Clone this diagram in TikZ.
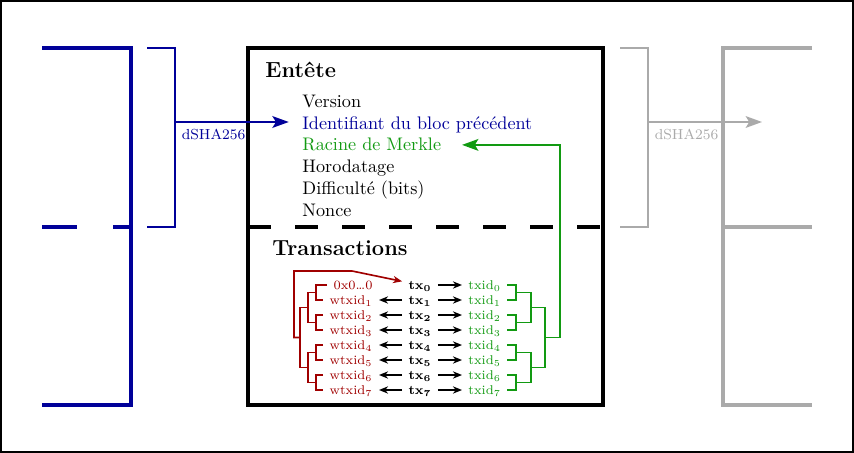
\documentclass[tikz,border=0pt]{standalone}
\usepackage{xcolor}
\usepackage{tikz}
\usetikzlibrary{arrows.meta,positioning,calc}
\definecolor{prevblue}{HTML}{000099}
\definecolor{merklegreen}{HTML}{129A12}
\definecolor{witnessred}{HTML}{A00000}
\definecolor{nextgray}{HTML}{AAAAAA}
\tikzset{
  blockline/.style={line width=2.4pt, draw=#1},
  blockline/.default=black,
  bracketline/.style={line width=0.7pt, draw=#1},
  hasharrow/.style={
    -{Stealth[length=9pt, width=6.5pt, inset=2pt]}, line width=0.8pt, color=#1
  },
  hashlabel/.style={font=\footnotesize, text=#1},
  titlelabel/.style={anchor=base west, font=\large\bfseries},
  fieldlabel/.style={anchor=base west, font=\normalsize, text=#1},
  fieldlabel/.default=black,
  txlabel/.style={font=\scriptsize, text height=1.5ex, text depth=0.4ex},
  widlabel/.style={txlabel, text=witnessred, anchor=east},
  idlabel/.style={txlabel, text=merklegreen, anchor=west},
  txarrow/.style={-{Stealth[length=5pt, width=4pt]}, line width=0.8pt},
  treeline/.style={line width=0.9pt, draw=#1},
}

\begin{document}
\begin{tikzpicture}[x=0.55pt, y=-0.55pt]
\useasboundingbox (0,0) rectangle (854,453);
\draw[line width=1.1pt] (1,1) rectangle (853,452);

% Previous block
\draw[blockline=prevblue] (42,48) -- (131,48) -- (131,405) -- (42,405);
\draw[blockline=prevblue, dash pattern=on 19.25pt off 19.8pt] (42,227) -- (131,227);
\draw[bracketline=prevblue] (147,48) -| (175,227) -- (147,227);
\coordinate (lb) at (175,122);

% Current block
\draw[blockline] (248,48) rectangle (603,405);
\draw[blockline, dash pattern=on 12.65pt off 13.2pt] (248,227) -- (603,227);
\node[titlelabel] (header) at (259,78) {Entête};
\node[titlelabel] (txs) at (266,255) {Transactions};

% Header fields
\node[fieldlabel] (version) at (296,108) {Version};
\node[fieldlabel=prevblue] (prevhash) at (296,129.5) {Identifiant du bloc précédent};
\node[fieldlabel=merklegreen] (merkle) at (296,151) {Racine de Merkle};
\node[fieldlabel] (time) at (296,172.5) {Horodatage};
\node[fieldlabel] (bits) at (296,194.5) {Difficulté (bits)};
\node[fieldlabel] (nonce) at (296,216.5) {Nonce};

\draw[hasharrow=prevblue, shorten >=4pt] (lb) -- (lb -| prevhash.west)
  node[pos=0, below right, hashlabel=prevblue] {dSHA256};

% Next block
\draw[blockline=nextgray] (812,48) -- (723,48) -- (723,405) -- (812,405);
\draw[blockline=nextgray] (723,227) -- (812,227);
\draw[bracketline=nextgray] (620,48) -| (648,227) -- (620,227);
\coordinate (gb) at (648,122);
\coordinate (nextend) at (762,122);
\draw[hasharrow=nextgray] (gb) -- (nextend)
  node[pos=0, below right, hashlabel=nextgray] {dSHA256};

% Transactions
\node[widlabel] (wid0) at (379,285) {0x0\ldots0};
\foreach \i in {0,...,7} {
  \node[txlabel] (tx\i) at (420,285+15*\i) {\textbf{tx}$_{\mathbf{\i}}$};
  \node[idlabel] (id\i) at (462,285+15*\i) {txid$_{\i}$};
  \draw[txarrow] (tx\i) -- (id\i);
}
\foreach \i in {1,...,7} {
  \node[widlabel] (wid\i) at (379,285+15*\i) {wtxid$_{\i}$};
  \draw[txarrow] (tx\i) -- (wid\i);
}

% Witness tree
\foreach \j in {0,...,3} {
  \pgfmathtruncatemacro{\a}{2*\j}
  \pgfmathtruncatemacro{\b}{2*\j+1}
  \coordinate (wp\j) at (316,292.5+30*\j);
  \coordinate (tp\j) at (516,292.5+30*\j);
  \draw[treeline=witnessred] (wid\a.west) -| (wp\j) |- (wid\b.west);
  \draw[treeline=merklegreen] (id\a.east) -| (tp\j) |- (id\b.east);
}
\foreach \k in {0,1} {
  \pgfmathtruncatemacro{\a}{2*\k}
  \pgfmathtruncatemacro{\b}{2*\k+1}
  \coordinate (wq\k) at (308,307.5+60*\k);
  \coordinate (tq\k) at (531,307.5+60*\k);
  \draw[treeline=witnessred] (wp\a) -| (wq\k) |- (wp\b);
  \draw[treeline=merklegreen] (tp\a) -| (tq\k) |- (tp\b);
}
\coordinate (wr) at (300,337.5);
\coordinate (tr) at (545,337.5);
\draw[treeline=witnessred] (wq0) -| (wr) |- (wq1);
\draw[treeline=merklegreen] (tq0) -| (tr) |- (tq1);

% Roots
\coordinate (wstem) at (294,271);
\coordinate (wbend) at (352,271);
\draw[treeline=witnessred, -{Stealth[length=5pt, width=4pt]}]
  (wr) -| (wstem) -- (wbend) -- ([yshift=2pt]tx0.west);
\coordinate (tstem) at (560,337.5);
\draw[treeline=merklegreen, -{Stealth[length=9pt, width=6.5pt, inset=2pt]},
  shorten >=8pt] (tr) -- (tstem) |- (merkle.east);

\end{tikzpicture}
\end{document}
